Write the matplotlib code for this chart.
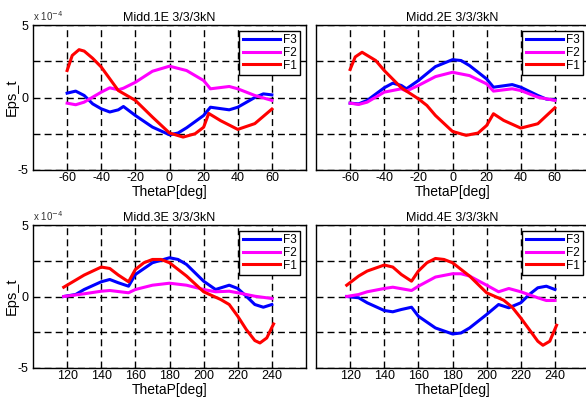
import matplotlib
matplotlib.use("Agg")
import matplotlib.pyplot as plt

plt.rcParams['font.family'] = ['Liberation Sans', 'DejaVu Sans']
plt.rcParams['axes.unicode_minus'] = False

titles = ["Midd.1E 3/3/3kN", "Midd.2E 3/3/3kN", "Midd.3E 3/3/3kN", "Midd.4E 3/3/3kN"]
series_names = ["F3", "F2", "F1"]
colors = ["#0000ff", "#ff00ff", "#ff0000"]

# ---- Midd.1E ----
m1_f1_x = [-60, -57, -53, -50, -45, -40, -30, -20, -10, 0, 8, 15, 20, 23, 30, 40, 50, 60]
m1_f1_y = [1.86, 2.9, 3.3, 3.2, 2.7, 2.1, 0.48, -0.2, -1.35, -2.45, -2.73, -2.5, -2.05, -1.1, -1.6, -2.2, -1.8, -0.8]
m1_f3_x = [-60, -55, -50, -45, -40, -35, -30, -27, -20, -10, 0, 5, 10, 20, 24, 35, 40, 50, 55, 60]
m1_f3_y = [0.3, 0.44, 0.14, -0.44, -0.78, -1.0, -0.85, -0.62, -1.24, -2.04, -2.57, -2.45, -2.09, -1.24, -0.67, -0.85, -0.67, 0.0, 0.25, 0.18]
m1_f2_x = [-60, -55, -50, -40, -35, -30, -27, -20, -10, 0, 10, 20, 24, 35, 40, 50, 60]
m1_f2_y = [-0.39, -0.5, -0.32, 0.37, 0.67, 0.53, 0.64, 1.05, 1.81, 2.16, 1.86, 1.17, 0.6, 0.76, 0.6, 0.14, -0.2]

# ---- Midd.2E ----
m2_f1_x = [-60, -57, -53, -45, -40, -30, -20, -15, -10, 0, 8, 15, 20, 24, 30, 40, 50, 60]
m2_f1_y = [1.93, 2.8, 3.12, 2.55, 1.86, 0.67, -0.09, -0.55, -1.24, -2.34, -2.61, -2.45, -1.93, -1.12, -1.58, -2.11, -1.81, -0.71]
m2_f3_x = [-60, -55, -50, -40, -35, -30, -27, -20, -10, 0, 5, 10, 20, 24, 35, 40, 50, 55, 60]
m2_f3_y = [-0.39, -0.44, -0.2, 0.67, 0.99, 0.83, 0.6, 1.17, 2.13, 2.61, 2.55, 2.2, 1.28, 0.71, 0.89, 0.71, 0.14, -0.11, -0.16]
m2_f2_x = [-60, -55, -50, -40, -30, -27, -20, -10, 0, 10, 20, 24, 35, 40, 50, 60]
m2_f2_y = [-0.39, -0.48, -0.32, 0.37, 0.6, 0.44, 0.83, 1.44, 1.74, 1.51, 0.94, 0.44, 0.6, 0.48, 0.02, -0.2]

# ---- Midd.3E ----
m3_f1_x = [118, 130, 140, 145, 150, 156, 160, 165, 170, 175, 180, 190, 200, 210, 215, 220, 225, 230, 233, 237, 241]
m3_f1_y = [0.65, 1.5, 2.06, 1.96, 1.5, 1.03, 1.89, 2.36, 2.59, 2.59, 2.36, 1.43, 0.33, -0.21, -0.56, -1.38, -2.31, -3.08, -3.25, -2.9, -1.92]
m3_f3_x = [118, 125, 130, 140, 145, 150, 156, 160, 170, 180, 185, 190, 200, 207, 215, 220, 225, 230, 235, 240]
m3_f3_y = [0.0, 0.14, 0.49, 1.03, 1.19, 0.96, 0.72, 1.54, 2.36, 2.71, 2.59, 2.24, 1.07, 0.49, 0.79, 0.56, 0.02, -0.56, -0.75, -0.56]
m3_f2_x = [118, 130, 140, 145, 156, 160, 170, 180, 190, 200, 207, 215, 220, 230, 240]
m3_f2_y = [0.0, 0.19, 0.37, 0.42, 0.26, 0.49, 0.79, 0.93, 0.79, 0.49, 0.33, 0.37, 0.26, 0.02, -0.14]

# ---- Midd.4E ----
m4_f1_x = [118, 125, 130, 140, 145, 150, 156, 160, 165, 170, 175, 180, 190, 200, 210, 215, 220, 225, 230, 233, 237, 241]
m4_f1_y = [0.79, 1.43, 1.78, 2.2, 2.06, 1.54, 1.07, 1.78, 2.36, 2.66, 2.59, 2.36, 1.43, 0.26, -0.26, -0.75, -1.5, -2.31, -3.13, -3.41, -3.13, -2.01]
m4_f3_x = [118, 125, 130, 140, 145, 150, 156, 160, 170, 180, 185, 190, 200, 207, 213, 220, 225, 230, 235, 240]
m4_f3_y = [0.0, -0.09, -0.44, -0.98, -1.07, -0.91, -0.75, -1.38, -2.2, -2.62, -2.55, -2.2, -1.26, -0.56, -0.79, -0.44, 0.14, 0.61, 0.72, 0.49]
m4_f2_x = [118, 125, 130, 140, 145, 156, 160, 170, 180, 185, 190, 200, 207, 213, 220, 230, 235, 240]
m4_f2_y = [0.0, 0.14, 0.33, 0.56, 0.65, 0.42, 0.72, 1.36, 1.59, 1.59, 1.43, 0.79, 0.33, 0.56, 0.33, -0.09, -0.28, -0.28]

panels = [
    [(m1_f3_x, m1_f3_y), (m1_f2_x, m1_f2_y), (m1_f1_x, m1_f1_y)],
    [(m2_f3_x, m2_f3_y), (m2_f2_x, m2_f2_y), (m2_f1_x, m2_f1_y)],
    [(m3_f3_x, m3_f3_y), (m3_f2_x, m3_f2_y), (m3_f1_x, m3_f1_y)],
    [(m4_f3_x, m4_f3_y), (m4_f2_x, m4_f2_y), (m4_f1_x, m4_f1_y)],
]

xticks_top = [-60, -40, -20, 0, 20, 40, 60]
xticks_bot = [120, 140, 160, 180, 200, 220, 240]
yticks = [-5, -2.5, 0, 2.5, 5]
ytick_labels = ["-5", "", "0", "", "5"]

W, H = 586, 397
fig = plt.figure(figsize=(W / 100, H / 100), dpi=100)
fig.patch.set_facecolor("white")

aw = 273
ah_top = 145
ah_bot = 143
positions = [
    (33, 25, aw, ah_top),
    (316, 25, aw, ah_top),
    (33, 225, aw, ah_bot),
    (316, 225, aw, ah_bot),
]

for i, (px, py, pw, ph) in enumerate(positions):
    ax = fig.add_axes([px / W, 1 - (py + ph) / H, pw / W, ph / H])
    for (xs, ys), name, c in zip(panels[i], series_names, colors):
        ax.plot(xs, ys, color=c, lw=2.2, label=name, solid_joinstyle='round')
    if i < 2:
        ax.set_xlim(-80, 80)
        ax.set_xticks(xticks_top)
    else:
        ax.set_xlim(100, 260)
        ax.set_xticks(xticks_bot)
    ax.set_ylim(-5, 5)
    ax.set_yticks(yticks)
    if i % 2 == 0:
        ax.set_yticklabels(ytick_labels)
        ax.set_ylabel("Eps_t", fontsize=10.5, va="center")
        ax.yaxis.set_label_coords((12 - px) / pw, 0.5)
        ax.text(0.0, 1.015, r"x 10$^{-4}$", transform=ax.transAxes,
                fontsize=7, ha="left", va="bottom", color="#333333")
    else:
        ax.set_yticklabels([])
    ax.tick_params(axis="x", length=0, labelsize=9, pad=1.5)
    ax.tick_params(axis="y", length=0, labelsize=9, pad=3)
    ax.grid(True, color="black", linestyle=(0, (5, 3)), linewidth=1.0)
    ax.set_axisbelow(True)
    for s in ax.spines.values():
        s.set_color("black")
        s.set_linewidth(1.0)
    ax.set_title(titles[i], fontsize=9, pad=3)
    ax.set_xlabel("ThetaP[deg]", fontsize=10, labelpad=0.5)
    leg = ax.legend(loc="upper right", fontsize=8.5, frameon=True, fancybox=False,
                    edgecolor="black", framealpha=1, handlelength=3.2,
                    labelspacing=0.05, borderpad=0.3, handletextpad=0.2,
                    borderaxespad=0.5)
    leg.get_frame().set_linewidth(1.0)

fig.savefig("out.png", dpi=100, facecolor="white")
